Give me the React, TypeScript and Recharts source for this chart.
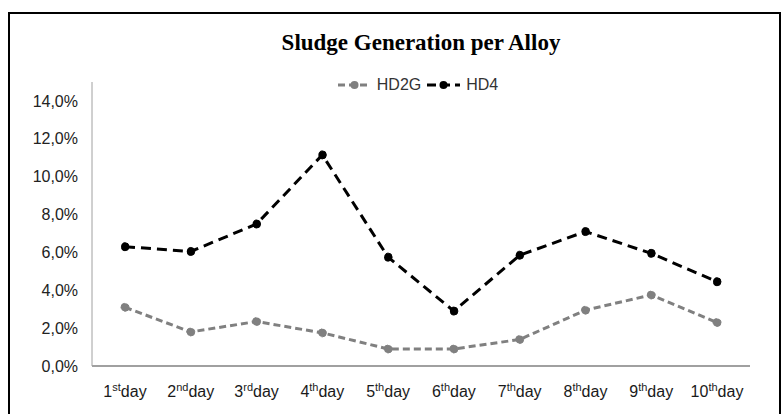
import { LineChart, Line, XAxis, YAxis, Legend } from "recharts";

const dayNumbers = ["1", "2", "3", "4", "5", "6", "7", "8", "9", "10"];
const daySuffixes = ["st", "nd", "rd", "th", "th", "th", "th", "th", "th", "th"];
const hd2g = [3.1, 1.8, 2.35, 1.75, 0.9, 0.9, 1.4, 2.95, 3.75, 2.3];
const hd4 = [6.3, 6.05, 7.5, 11.15, 5.75, 2.9, 5.85, 7.1, 5.95, 4.45];
const yTicks = [0, 2, 4, 6, 8, 10, 12, 14];

const data = dayNumbers.map((n, i) => ({
  day: n + daySuffixes[i],
  num: n,
  suffix: daySuffixes[i],
  HD2G: hd2g[i],
  HD4: hd4[i],
}));

const series = [
  { key: "HD2G", color: "#808080", dash: "7 4", iconDash: "7 4" },
  { key: "HD4", color: "#000000", dash: "10 6", iconDash: "9 5" },
];

const font = "'Liberation Sans', Arial, sans-serif";

function DayTick({ x, y, index }: any) {
  const d = data[index];
  return (
    <text x={x} y={y + 31} textAnchor="middle" fill="#1a1a1a" fontSize={16} fontFamily={font}>
      <tspan>{d.num}</tspan>
      <tspan fontSize={11} dy={-6}>{d.suffix}</tspan>
      <tspan dy={6}>day</tspan>
    </text>
  );
}

function LegendContent() {
  return (
    <div style={{ display: "flex", justifyContent: "center", alignItems: "center", fontFamily: font, fontSize: 16, color: "#333" }}>
      {series.map((s) => (
        <div key={s.key} style={{ display: "flex", alignItems: "center", marginRight: 6 }}>
          <svg width={33} height={12} style={{ marginRight: 6 }}>
            <line x1={0} y1={6} x2={33} y2={6} stroke={s.color} strokeWidth={3} strokeDasharray={s.iconDash} />
            <circle cx={16.5} cy={6} r={4} fill={s.color} />
          </svg>
          <span>{s.key}</span>
        </div>
      ))}
    </div>
  );
}

export default function App() {
  return (
    <div
      style={{
        position: "fixed",
        left: 8,
        top: 12,
        boxSizing: "border-box",
        width: 773,
        height: 404,
        border: "2px solid #000",
        background: "#fff",
      }}
    >
      <div
        style={{
          position: "absolute",
          left: 82,
          width: 658,
          top: 17,
          textAlign: "center",
          fontFamily: "'Liberation Serif', 'Times New Roman', serif",
          fontWeight: "bold",
          fontSize: 23,
          lineHeight: "23px",
          color: "#000",
        }}
      >
        Sludge Generation per Alloy
      </div>
      <LineChart width={769} height={400} data={data} margin={{ top: 50, right: 29, left: 0, bottom: 0 }}>
        <XAxis
          dataKey="day"
          height={48}
          interval={0}
          padding={{ left: 33, right: 33 }}
          tickLine={false}
          tickSize={0}
          tickMargin={0}
          axisLine={{ stroke: "#808080", strokeWidth: 1.5 }}
          tick={<DayTick />}
        />
        <YAxis
          width={82}
          domain={[0, 15]}
          ticks={yTicks}
          interval={0}
          tickLine={false}
          tickSize={0}
          tickMargin={14}
          axisLine={{ stroke: "#a0a0a0", strokeWidth: 1 }}
          tick={{ fill: "#222", fontSize: 16, fontFamily: font }}
          tickFormatter={(v: number) => v.toFixed(1).replace(".", ",") + "%"}
        />
        <Legend
          verticalAlign="top"
          content={<LegendContent />}
          wrapperStyle={{ top: 62, left: 82, width: 658, height: 18 }}
        />
        {series.map((s) => (
          <Line
            key={s.key}
            dataKey={s.key}
            type="linear"
            stroke={s.color}
            strokeWidth={3}
            strokeDasharray={s.dash}
            dot={{ r: 4, fill: s.color, stroke: s.color, strokeWidth: 1 }}
            activeDot={false}
            isAnimationActive={false}
          />
        ))}
      </LineChart>
    </div>
  );
}
